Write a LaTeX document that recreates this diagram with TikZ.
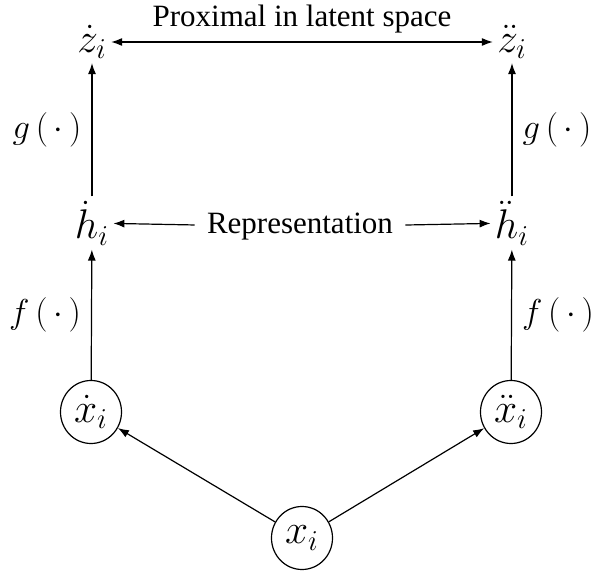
\documentclass[tikz,border=0pt]{standalone}
\usepackage{fontspec}
\setmainfont{Liberation Serif}
\usetikzlibrary{arrows.meta,shapes.geometric}
\begin{document}
\begin{tikzpicture}[x=0.5pt,y=-0.5pt,
  every node/.style={font=\fontsize{15.5}{18}\selectfont},
  arr/.style={line width=0.6pt,-{Latex[length=5.5pt,width=4pt]}},
  darr/.style={line width=0.6pt,{Latex[length=5.5pt,width=4pt]}-{Latex[length=5.5pt,width=4pt]}},
  var/.style={inner sep=2pt,font=\fontsize{22}{26}\selectfont},
  lab/.style={inner sep=5pt,font=\fontsize{16}{19}\selectfont},
  circ/.style={draw,line width=0.6pt,ellipse,minimum width=30.5pt,minimum height=31.5pt,inner sep=0pt,font=\fontsize{22}{26}\selectfont}]
\useasboundingbox (0,0) rectangle (596,573);
\node[var] (zd)  at (92,42) {$\dot z_i$};
\node[var] (zdd) at (512,42) {$\ddot z_i$};
\node[var] (hd)  at (92,223) {$\dot h_i$};
\node[var] (hdd) at (512,223) {$\ddot h_i$};
\node[inner sep=6pt] (rep) at (300,227) {Representation};
\node[circ] (xd)  at (91,412) {$\dot x_i$};
\node[circ] (xdd) at (511,412) {$\ddot x_i$};
\node[circ] (x) at (302,538) {$x_i$};
\draw[darr] (zd) -- node[above,inner sep=4pt] {Proximal in latent space} (zdd);
\draw[arr] (rep) -- (hd);
\draw[arr] (rep) -- (hdd);
\draw[arr] (hd) -- node[left,lab] {$g\,(\,\cdot\,)$} (zd);
\draw[arr] (hdd) -- node[right,lab] {$g\,(\,\cdot\,)$} (zdd);
\draw[arr] (xd) -- node[left,lab] {$f\,(\,\cdot\,)$} (hd);
\draw[arr] (xdd) -- node[right,lab] {$f\,(\,\cdot\,)$} (hdd);
\draw[arr] (x) -- (xd);
\draw[arr] (x) -- (xdd);
\end{tikzpicture}
\end{document}
